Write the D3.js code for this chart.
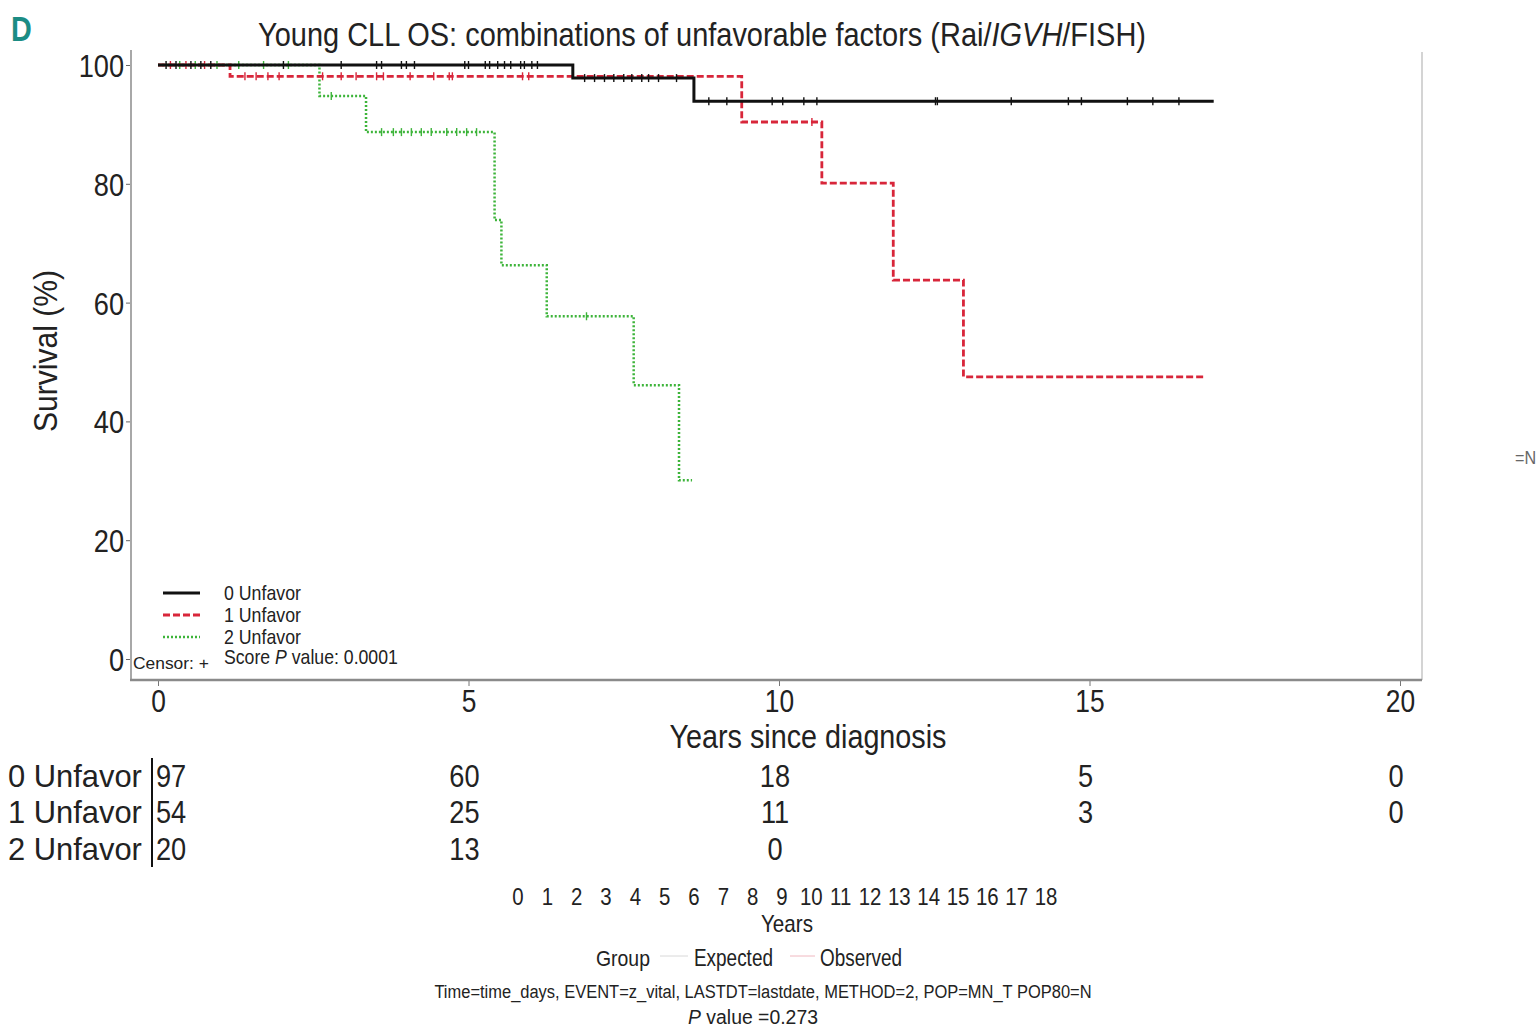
<!DOCTYPE html>
<html lang="en">
<head>
  <meta charset="UTF-8">
  <title>Young CLL OS</title>
  <script src="https://d3js.org/d3.v7.min.js"></script>
  <style>
    body { margin: 0; background: #fff; }
    text { font-family: "Liberation Sans", Arial, sans-serif; fill: #222; }
  </style>
</head>
<body>
<div class="main"></div>
<script>
  // survival steps per group (years, %)
  var groups = ["0 Unfavor", "1 Unfavor", "2 Unfavor"];
  var colors = ["#111111", "#d8263a", "#3db43a"];
  var dashes = [null, "7,3", "2,2"];

  var time0 = [0, 6.68, 8.63, 17.0];
  var surv0 = [100, 97.8, 93.9, 93.9];
  var time1 = [0, 1.16, 9.40, 10.69, 11.84, 12.97, 16.84];
  var surv1 = [100, 98.1, 90.4, 80.1, 63.8, 47.5, 47.5];
  var time2 = [0, 2.60, 3.35, 5.42, 5.53, 6.26, 7.66, 8.39, 8.60];
  var surv2 = [100, 94.8, 88.7, 73.9, 66.3, 57.7, 46.1, 30.1, 30.1];

  // censor times
  var cens0 = [0.13, 0.29, 0.53, 0.69, 0.85, 2.02, 2.95, 3.52, 3.60, 3.92, 4.0, 4.13, 4.94, 5.0, 5.27, 5.34, 5.47, 5.58, 5.68, 5.84, 5.90, 6.02, 6.11,
               6.87, 7.03, 7.19, 7.34, 7.50, 7.63, 7.79, 7.90, 8.06, 8.35,
               8.87, 9.16, 9.89, 10.06, 10.40, 10.61, 12.52, 12.55, 13.74, 14.66, 14.87, 15.61, 16.02, 16.44];
  var cens1 = [0.2, 0.45, 0.75, 1.40, 1.58, 1.77, 1.95, 2.65, 2.95, 3.19, 3.52, 3.63, 4.06, 4.44, 4.69, 4.74, 5.87, 5.97, 10.53];
  var cens2 = [0.35, 0.6, 0.95, 1.3, 1.7, 2.1, 2.79, 3.60, 3.79, 3.92, 4.08, 4.24, 4.40, 4.65, 4.81, 4.97, 5.13, 6.90];

  var xTicks = [0, 5, 10, 15, 20];
  var yTicks = [0, 20, 40, 60, 80, 100];

  // numbers at risk
  var riskTimes = [0, 5, 10, 15, 20];
  var risk0 = [97, 60, 18, 5, 0];
  var risk1 = [54, 25, 11, 3, 0];
  var risk2 = [20, 13, 0];

  var yearsTicks = d3.range(0, 19);

  var width = 1539, height = 1028;
  var narrowK = 0.85;

  var svg = d3.select(".main").append("svg")
    .attr("width", width)
    .attr("height", height)
    .style("display", "block");

  var xScale = d3.scaleLinear().domain([0, 20]).range([158, 1400]);
  var yScale = d3.scaleLinear().domain([0, 100]).range([659, 65]);

  // squeeze text horizontally around its x (no condensed font installed)
  function squeeze(sel, k) {
    sel.each(function () {
      var x = +this.getAttribute("x") || 0;
      this.setAttribute("transform", "translate(" + x + ",0) scale(" + k + ",1) translate(" + (-x) + ",0)");
    });
    return sel;
  }
  function fitTo(sel, w) {
    var len = sel.node().getComputedTextLength();
    return squeeze(sel, w / len);
  }

  // panel letter + title
  squeeze(svg.append("text").attr("x", 11).attr("y", 41)
    .style("font-weight", "bold").style("font-size", "36px").style("fill", "#1b8c84")
    .text("D"), 0.8);

  var title = svg.append("text").attr("x", 702).attr("y", 46)
    .attr("text-anchor", "middle").style("font-size", "34px");
  title.append("tspan").text("Young CLL OS: combinations of unfavorable factors (Rai/");
  title.append("tspan").style("font-style", "italic").text("IGVH");
  title.append("tspan").text("/FISH)");
  fitTo(title, 888);

  // frame
  svg.append("line").attr("x1", 1422).attr("x2", 1422).attr("y1", 52).attr("y2", 680)
    .attr("stroke", "#d4d4d4").attr("stroke-width", 2);

  var yAxis = d3.axisLeft(yScale).tickValues(yTicks).tickSize(5).tickPadding(2);
  var gy = svg.append("g").attr("transform", "translate(131,0)").call(yAxis);
  gy.select(".domain").remove();
  gy.append("line").attr("x1", 0).attr("x2", 0).attr("y1", 50).attr("y2", 680)
    .attr("stroke", "#a8a8a8").attr("stroke-width", 2);
  gy.selectAll(".tick line").attr("stroke", "#666");
  squeeze(gy.selectAll(".tick text").style("font-size", "32px").attr("dy", "0.36em")
    .style("font-family", "Liberation Sans, Arial, sans-serif").attr("fill", "#222"), narrowK);

  var xAxis = d3.axisBottom(xScale).tickValues(xTicks).tickSize(6).tickPadding(4);
  var gx = svg.append("g").attr("transform", "translate(0,680)").call(xAxis);
  gx.select(".domain").remove();
  gx.append("line").attr("x1", 130).attr("x2", 1422).attr("y1", 0).attr("y2", 0)
    .attr("stroke", "#8a8a8a").attr("stroke-width", 2.5);
  gx.selectAll(".tick line").attr("stroke", "#777");
  squeeze(gx.selectAll(".tick text").style("font-size", "31px")
    .style("font-family", "Liberation Sans, Arial, sans-serif").attr("fill", "#222"), narrowK);

  var yl = svg.append("text").attr("x", 45).attr("y", 351)
    .attr("text-anchor", "middle").attr("dy", "0.35em")
    .style("font-size", "33px").text("Survival (%)");
  var ylk = 162 / yl.node().getComputedTextLength();
  yl.attr("transform", "rotate(-90,45,351) translate(45,0) scale(" + ylk + ",1) translate(-45,0)");

  fitTo(svg.append("text").attr("x", 808).attr("y", 748)
    .attr("text-anchor", "middle").style("font-size", "33px").text("Years since diagnosis"), 277);

  // curves
  var times = [time0, time1, time2];
  var survs = [surv0, surv1, surv2];
  var cens = [cens0, cens1, cens2];
  var widths = [3, 2.8, 2.5];

  var line = d3.line()
    .x(function (d) { return xScale(d[0]); })
    .y(function (d) { return yScale(d[1]); })
    .curve(d3.curveStepAfter);

  function survAt(g, t) {
    var s = survs[g][0];
    for (var i = 0; i < times[g].length; i++) {
      if (times[g][i] <= t) s = survs[g][i];
    }
    return s;
  }

  // draw in reverse so black sits on top
  [2, 1, 0].forEach(function (g) {
    var pts = times[g].map(function (t, i) { return [t, survs[g][i]]; });
    svg.append("path")
      .attr("d", line(pts))
      .attr("fill", "none")
      .attr("stroke", colors[g])
      .attr("stroke-width", widths[g])
      .attr("stroke-dasharray", dashes[g]);

    svg.append("g").selectAll("line")
      .data(cens[g])
      .join("line")
      .attr("x1", function (d) { return xScale(d); })
      .attr("x2", function (d) { return xScale(d); })
      .attr("y1", function (d) { return yScale(survAt(g, d)) - 4; })
      .attr("y2", function (d) { return yScale(survAt(g, d)) + 4; })
      .attr("stroke", colors[g])
      .attr("stroke-width", 1.4);
  });

  // legend inside the plot
  var legend = svg.append("g");
  groups.forEach(function (name, i) {
    var y = 593 + i * 22;
    legend.append("line").attr("x1", 163).attr("x2", 200).attr("y1", y).attr("y2", y)
      .attr("stroke", colors[i]).attr("stroke-width", widths[i]).attr("stroke-dasharray", dashes[i]);
    fitTo(legend.append("text").attr("x", 224).attr("y", y).attr("dy", "0.35em")
      .style("font-size", "20px").text(name), 77);
  });
  fitTo(legend.append("text").attr("x", 133).attr("y", 663).attr("dy", "0.35em")
    .style("font-size", "17px").text("Censor: +"), 76);
  var score = legend.append("text").attr("x", 224).attr("y", 657).attr("dy", "0.35em").style("font-size", "20px");
  score.append("tspan").text("Score ");
  score.append("tspan").style("font-style", "italic").text("P");
  score.append("tspan").text(" value: 0.0001");
  fitTo(score, 174);

  // numbers at risk table
  var risks = [risk0, risk1, risk2];
  var rowY = [775, 811, 848];
  var table = svg.append("g");
  groups.forEach(function (name, i) {
    fitTo(table.append("text").attr("x", 8).attr("y", rowY[i]).attr("dy", "0.36em")
      .style("font-size", "32px").text(name), 134);
    risks[i].forEach(function (v, j) {
      var t = riskTimes[j];
      squeeze(table.append("text")
        .attr("x", j === 0 ? 156 : xScale(t) - 4)
        .attr("y", rowY[i]).attr("dy", "0.36em")
        .attr("text-anchor", j === 0 ? "start" : "middle")
        .style("font-size", "32px").text(v), narrowK);
    });
  });
  table.append("line").attr("x1", 152).attr("x2", 152).attr("y1", 758).attr("y2", 867)
    .attr("stroke", "#111").attr("stroke-width", 2);

  // bottom strip: years axis + expected/observed legend
  var yrScale = d3.scaleLinear().domain([0, 18]).range([518, 1046]);
  squeeze(svg.append("g").selectAll("text")
    .data(yearsTicks)
    .join("text")
    .attr("x", function (d) { return yrScale(d); })
    .attr("y", 896).attr("dy", "0.36em")
    .attr("text-anchor", "middle")
    .style("font-size", "24px")
    .text(function (d) { return d; }), narrowK);
  fitTo(svg.append("text").attr("x", 787).attr("y", 924).attr("dy", "0.36em")
    .attr("text-anchor", "middle").style("font-size", "23px").text("Years"), 52);

  fitTo(svg.append("text").attr("x", 596).attr("y", 958).attr("dy", "0.36em")
    .style("font-size", "23px").text("Group"), 54);
  svg.append("line").attr("x1", 660).attr("x2", 688).attr("y1", 956).attr("y2", 956)
    .attr("stroke", "#d8d8d8").attr("stroke-width", 1);
  fitTo(svg.append("text").attr("x", 694).attr("y", 958).attr("dy", "0.36em")
    .style("font-size", "23px").text("Expected"), 79);
  svg.append("line").attr("x1", 790).attr("x2", 815).attr("y1", 956).attr("y2", 956)
    .attr("stroke", "#f0b8c0").attr("stroke-width", 1);
  fitTo(svg.append("text").attr("x", 820).attr("y", 958).attr("dy", "0.36em")
    .style("font-size", "23px").text("Observed"), 82);

  fitTo(svg.append("text").attr("x", 763).attr("y", 991).attr("dy", "0.36em")
    .attr("text-anchor", "middle").style("font-size", "19px")
    .text("Time=time_days, EVENT=z_vital, LASTDT=lastdate, METHOD=2, POP=MN_T POP80=N"), 658);
  var pv = svg.append("text").attr("x", 753).attr("y", 1016).attr("dy", "0.36em")
    .attr("text-anchor", "middle").style("font-size", "21px");
  pv.append("tspan").style("font-style", "italic").text("P");
  pv.append("tspan").text(" value =0.273");
  fitTo(pv, 130);

  squeeze(svg.append("text").attr("x", 1515).attr("y", 457).attr("dy", "0.36em")
    .style("font-size", "19px").style("fill", "#666").text("=N"), narrowK);
</script>
</body>
</html>
